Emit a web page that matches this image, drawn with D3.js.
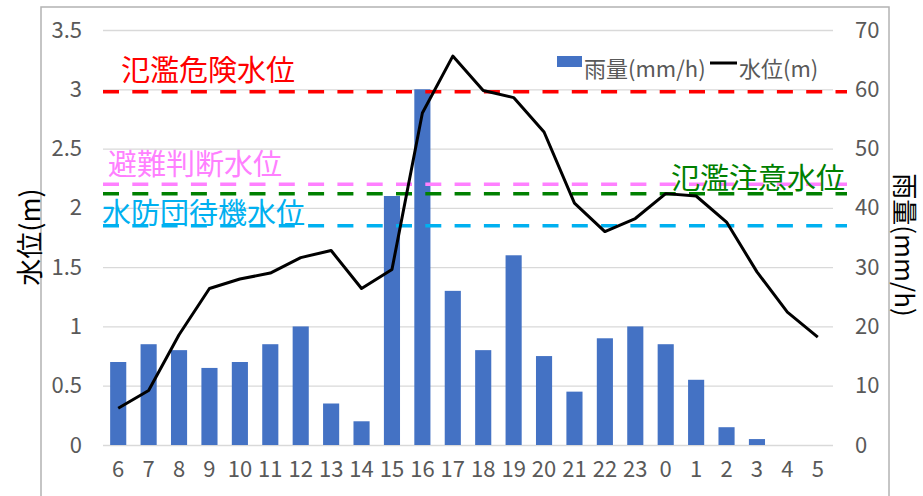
<!DOCTYPE html>
<html><head><meta charset="utf-8">
<script src="https://cdn.jsdelivr.net/npm/d3@7"></script>
<style>
html,body{margin:0;padding:0;background:#fff;}
svg{display:block;font-family:"Noto Sans CJK JP","Noto Sans",sans-serif;}
</style></head>
<body>
<svg id="chart" width="923" height="496"></svg>
<script>
// ---- data ----
const hours = ["6","7","8","9","10","11","12","13","14","15","16","17","18","19","20","21","22","23","0","1","2","3","4","5"];
const rainfall = [14,17,16,13,14,17,20,7,4,42,60,26,16,32,15,9,18,20,17,11,3,1,0,0];
const waterLevel = [0.31,0.46,0.93,1.32,1.40,1.45,1.58,1.64,1.32,1.48,2.80,3.28,2.99,2.93,2.64,2.04,1.80,1.91,2.12,2.10,1.88,1.46,1.12,0.91];
const leftTicks = [0,0.5,1,1.5,2,2.5,3,3.5];
const rightTicks = [0,10,20,30,40,50,60,70];
const thresholdNames = ["氾濫危険水位","避難判断水位","氾濫注意水位","水防団待機水位"];
const thresholdValues = [2.98,2.20,2.12,1.85];
const thresholdColors = ["#FF0000","#FF80FF","#008000","#00B0F0"];
const seriesNames = ["雨量(mm/h)","水位(m)"];
const axisTitles = ["水位(m)","雨量(mm/h)"];

// ---- layout ----
const svg = d3.select("#chart");
const plot = {left:103, right:833, top:30, bottom:445};

// chart border
svg.append("rect").attr("x",41).attr("y",7).attr("width",848).attr("height",520)
  .attr("fill","none").attr("stroke","#b3b3b3").attr("stroke-width",1.5);

const x = d3.scaleBand().domain(hours).range([plot.left, plot.right])
  .paddingInner(0.47).paddingOuter(0.235);
const yL = d3.scaleLinear().domain([0,3.5]).range([plot.bottom, plot.top]);
const yR = d3.scaleLinear().domain([0,70]).range([plot.bottom, plot.top]);

// gridlines
const grid = svg.append("g").attr("transform",`translate(${plot.left},0)`)
  .call(d3.axisLeft(yL).tickValues(leftTicks).tickSize(-(plot.right-plot.left)).tickFormat(""));
grid.select(".domain").remove();
grid.selectAll("line").attr("stroke","#d9d9d9").attr("stroke-width",1.3);

// left tick labels
const axL = svg.append("g").attr("transform","translate(82,0)")
  .call(d3.axisLeft(yL).tickValues(leftTicks).tickSize(0).tickPadding(0).tickFormat(d3.format("")));
axL.select(".domain").remove();
axL.selectAll("text").attr("fill","#595959").attr("font-size",22).attr("dy","0.32em")
  .attr("font-family","'Noto Sans CJK JP',sans-serif");

// right tick labels
const axR = svg.append("g").attr("transform","translate(855,0)")
  .call(d3.axisRight(yR).tickValues(rightTicks).tickSize(0).tickPadding(0));
axR.select(".domain").remove();
axR.selectAll("text").attr("fill","#595959").attr("font-size",22).attr("dy","0.32em")
  .attr("font-family","'Noto Sans CJK JP',sans-serif");

// x labels
const axB = svg.append("g").attr("transform","translate(0,470)")
  .call(d3.axisBottom(x).tickSize(0).tickPadding(0));
axB.select(".domain").remove();
axB.selectAll("text").attr("fill","#595959").attr("font-size",22).attr("dy","0.32em")
  .attr("font-family","'Noto Sans CJK JP',sans-serif");

// bars
svg.append("g").selectAll("rect").data(hours).join("rect")
  .attr("x", d=>x(d))
  .attr("width", x.bandwidth())
  .attr("y", (d,i)=>yR(rainfall[i]))
  .attr("height", (d,i)=>yR(0)-yR(rainfall[i]))
  .attr("fill","#4472C4");

// threshold lines
const thrRight = plot.right + 14;
svg.append("g").selectAll("line").data(thresholdValues).join("line")
  .attr("x1",plot.left).attr("x2",thrRight)
  .attr("y1",d=>yL(d)).attr("y2",d=>yL(d))
  .attr("stroke",(d,i)=>thresholdColors[i])
  .attr("stroke-width",3.5)
  .attr("stroke-dasharray","16,13.3");

// water level line
const line = d3.line().x((d,i)=>x(hours[i])+x.bandwidth()/2).y(d=>yL(d));
svg.append("path").datum(waterLevel).attr("d",line)
  .attr("fill","none").attr("stroke","#000").attr("stroke-width",3).attr("stroke-linejoin","round");

// threshold labels
const labelPos = [[121,81],[108,175],[671,189],[102,224]];
svg.append("g").selectAll("text").data(thresholdNames).join("text")
  .attr("x",(d,i)=>labelPos[i][0]).attr("y",(d,i)=>labelPos[i][1])
  .attr("fill",(d,i)=>thresholdColors[i])
  .attr("font-size",29)
  .text(d=>d);

// legend
const lg = svg.append("g");
lg.append("rect").attr("x",557).attr("y",56).attr("width",25).attr("height",11).attr("fill","#4472C4");
lg.append("text").attr("x",584).attr("y",77).attr("font-size",22).attr("fill","#595959").text(seriesNames[0]);
lg.append("line").attr("x1",710).attr("x2",737).attr("y1",63).attr("y2",63).attr("stroke","#000").attr("stroke-width",3);
lg.append("text").attr("x",739).attr("y",77).attr("font-size",22).attr("fill","#595959").text(seriesNames[1]);

// axis titles
svg.append("text").attr("transform","translate(28,237) rotate(-90)")
  .attr("text-anchor","middle").attr("dominant-baseline","central")
  .attr("font-size",27).attr("fill","#000").text(axisTitles[0]);
svg.append("text").attr("transform","translate(906,245) rotate(90)")
  .attr("text-anchor","middle").attr("dominant-baseline","central")
  .attr("font-size",26).attr("fill","#000").text(axisTitles[1]);
</script>
</body></html>
